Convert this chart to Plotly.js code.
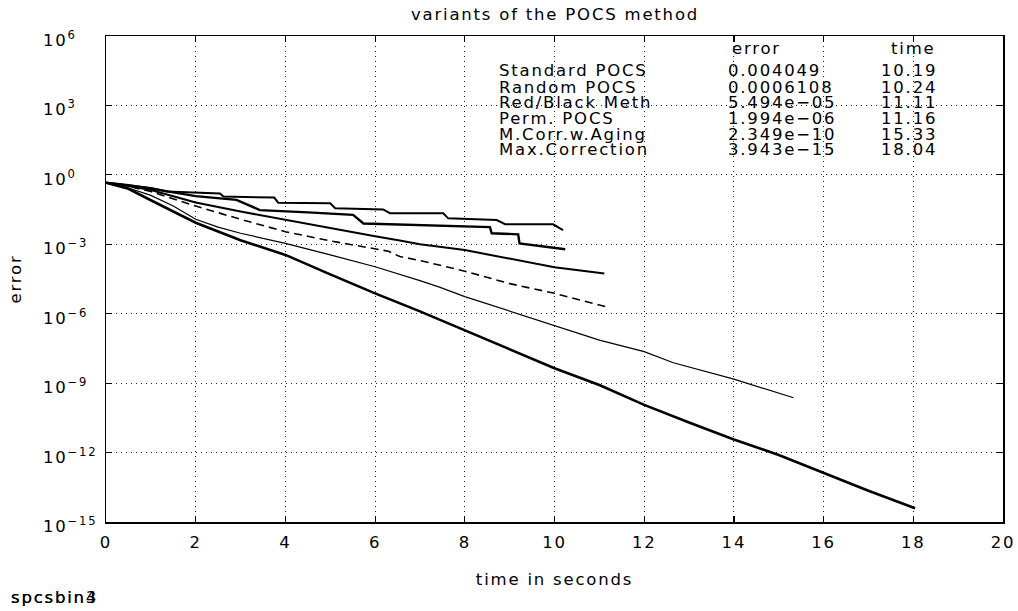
<!DOCTYPE html>
<html>
<head>
<meta charset="utf-8">
<script src="https://cdn.plot.ly/plotly-3.0.1.min.js"></script>
<style>
  html, body { margin: 0; padding: 0; background: #fff; }
  #chart { width: 1018px; height: 611px; }
  svg text { letter-spacing: 1.8px; }
</style>
</head>
<body>
<div id="chart"></div>
<script>
// ---------- data ----------
const methods = ['Standard POCS', 'Random POCS', 'Red/Black Meth', 'Perm. POCS', 'M.Corr.w.Aging', 'Max.Correction'];
const errorLabels = ['0.004049', '0.0006108', '5.494e\u221205', '1.994e\u221206', '2.349e\u221210', '3.943e\u221215'];
const timeLabels = ['10.19', '10.24', '11.11', '11.16', '15.33', '18.04'];

const stdX = [0, 0.5, 1.0, 1.35, 2.54, 2.62, 3.75, 3.84, 5.0, 5.11, 6.18, 6.33, 7.52, 7.63, 8.71, 8.9, 9.97, 10.19];
const stdY = [0.457, 0.36, 0.27, 0.19, 0.158, 0.115, 0.105, 0.063, 0.059, 0.036, 0.032, 0.022, 0.0219, 0.0132, 0.0112, 0.0074, 0.0073, 0.004049];

const rndX = [0, 0.5, 0.98, 2.0, 2.91, 3.43, 4.5, 5.51, 5.74, 6.55, 7.67, 8.56, 8.6, 9.19, 9.22, 10.24];
const rndY = [0.457, 0.36, 0.26, 0.12, 0.083, 0.030, 0.024, 0.0186, 0.0079, 0.0071, 0.0058, 0.0055, 0.0030, 0.0027, 0.0011, 0.0006108];

const rbX = [0, 0.5, 1, 1.5, 2, 3, 4, 5, 6, 6.55, 7, 8, 9, 10, 11.11];
const rbY = [0.457, 0.33, 0.22, 0.12, 0.064, 0.026, 0.0112, 0.0050, 0.00224, 0.00145, 0.0010, 0.00056, 0.00024, 0.000102, 5.494e-5];

const permX = [0, 0.5, 1, 1.5, 2, 3, 4, 5, 6, 6.3, 6.55, 7, 8, 9, 10, 11.16];
const permY = [0.457, 0.32, 0.19, 0.09, 0.045, 0.012, 0.0035, 0.0014, 6.3e-4, 5.0e-4, 2.95e-4, 2.0e-4, 6.9e-5, 2.0e-5, 7.6e-6, 1.994e-6];

const agingX = [0, 0.5, 1, 1.5, 2, 2.5, 3, 4, 5, 6, 7, 7.45, 8, 9, 10, 11, 12, 12.65, 14, 14.88, 15.33];
const agingY = [0.457, 0.27, 0.13, 0.045, 0.012, 5.5e-3, 3.0e-3, 1.1e-3, 3.5e-4, 1.07e-4, 2.7e-5, 1.38e-5, 5.5e-6, 1.3e-6, 2.95e-7, 7.2e-8, 2.3e-8, 7.6e-9, 1.48e-9, 4.3e-10, 2.349e-10];

const maxX = [0, 0.5, 1, 1.5, 2, 3, 4, 5, 6, 7, 8, 9, 10, 11, 12, 13, 14, 15, 16, 17, 18.04];
const maxY = [0.457, 0.25, 0.08, 0.025, 8.5e-3, 1.5e-3, 3.47e-4, 5.0e-5, 7.6e-6, 1.26e-6, 1.95e-7, 2.95e-8, 4.4e-9, 8.3e-10, 1.15e-10, 2.0e-11, 3.7e-12, 7.9e-13, 1.35e-13, 2.24e-14, 3.943e-15];

const xTicks = [0, 2, 4, 6, 8, 10, 12, 14, 16, 18, 20];
const yTickExps = [-15, -12, -9, -6, -3, 0, 3, 6];

// ---------- geometry helpers ----------
const W = 1018, H = 611;
const L = 106, R = 1003, T = 36, B = 522;
const px = v => (v - L) / (R - L);
const py = v => (B - v) / (B - T);
const FONT = 'DejaVu Sans, sans-serif';
const FS = 16.5;

function line(x, y, width, dash) {
  return { x: x, y: y, type: 'scatter', mode: 'lines', hoverinfo: 'skip',
    line: { color: '#000', width: width, dash: dash || 'solid', shape: 'linear' }, showlegend: false };
}

const traces = [
  line(stdX, stdY, 2.0),
  line(rndX, rndY, 2.4),
  line(rbX, rbY, 2.0),
  line(permX, permY, 1.6, '8px,5px'),
  line(agingX, agingY, 1.2),
  line(maxX, maxY, 2.6)
];

const txt = (x, y, t, extra) => Object.assign({ xref: 'paper', yref: 'paper', x: x, y: y,
  xanchor: 'left', yanchor: 'middle', showarrow: false, text: t, borderpad: 0,
  font: { family: FONT, size: FS, color: '#000' } }, extra || {});

const ann = [];
// y tick labels (left aligned as in the original)
yTickExps.forEach(e => {
  ann.push(txt(px(42), e, '10<sup>' + (e < 0 ? '\u2212' + (-e) : e) + '</sup>', { yref: 'y', yshift: -3 }));
});
// table
const rowY = [71, 87, 102.5, 118, 134, 149.5];
ann.push(txt(px(731), py(48), 'error'));
ann.push(txt(px(890), py(48), 'time'));
methods.forEach((m, i) => {
  ann.push(txt(px(498), py(rowY[i]), m));
  ann.push(txt(px(727), py(rowY[i]), errorLabels[i]));
  ann.push(txt(px(880), py(rowY[i]), timeLabels[i]));
});
// figure tag bottom-left
ann.push(txt(px(10), py(597), 'spcsbin4'));
ann.push(txt(px(10), py(597), 'spcsbin3'));

const axisCommon = {
  showline: true, linecolor: '#000', linewidth: 1.5, mirror: 'ticks',
  ticks: 'inside', ticklen: 6, tickcolor: '#000', tickwidth: 1.2,
  showgrid: true, gridcolor: '#222', griddash: '1px,4px', gridwidth: 1,
  zeroline: false
};

const layout = {
  width: W, height: H, autosize: false,
  margin: { l: L, r: W - R, t: T, b: H - B, pad: 0 },
  paper_bgcolor: '#fff', plot_bgcolor: '#fff',
  font: { family: FONT, size: FS, color: '#000' },
  title: { text: 'variants of the POCS method', xref: 'paper', x: px(555), xanchor: 'center',
    yref: 'container', y: 1 - 14 / H, yanchor: 'middle', font: { family: FONT, size: FS, color: '#000' } },
  xaxis: Object.assign({}, axisCommon, {
    range: [0, 20], tickmode: 'array', tickvals: xTicks, ticktext: xTicks.map(String),
    ticklabelstandoff: 5,
    tickfont: { family: FONT, size: FS, color: '#000' },
    title: { text: 'time in seconds', standoff: 22, font: { family: FONT, size: FS, color: '#000' } }
  }),
  yaxis: Object.assign({}, axisCommon, {
    type: 'log', range: [-15, 6], tickmode: 'array', tickvals: yTickExps.map(e => Math.pow(10, e)),
    showticklabels: false,
    title: { text: 'error', standoff: 78, font: { family: FONT, size: FS, color: '#000' } }
  }),
  annotations: ann,
  showlegend: false
};

Plotly.newPlot('chart', traces, layout, { staticPlot: true, displayModeBar: false });
</script>
</body>
</html>
